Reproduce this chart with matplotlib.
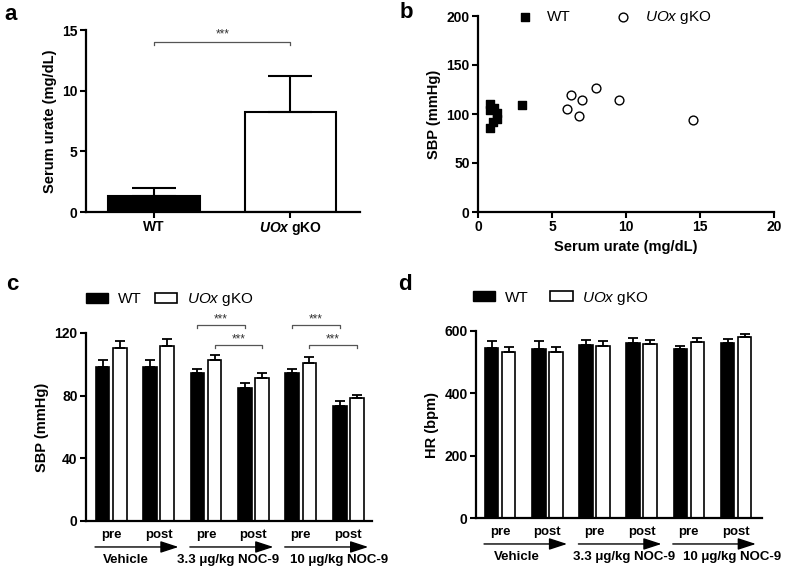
import numpy as np
import matplotlib
matplotlib.use('Agg')
import matplotlib.pyplot as plt
from matplotlib.patches import Patch
from matplotlib.transforms import offset_copy

plt.rcParams['font.family'] = ['Liberation Sans', 'DejaVu Sans']
plt.rcParams['mathtext.fontset'] = 'custom'
plt.rcParams['mathtext.rm'] = 'Liberation Sans'
plt.rcParams['mathtext.it'] = 'Liberation Sans:italic'
plt.rcParams['mathtext.bf'] = 'Liberation Sans:bold'
plt.rcParams['mathtext.bfit'] = 'Liberation Sans:italic:bold'

# panel a: serum urate
genotypes = ['WT', r'$\mathbfit{UOx}$ gKO']
urate_mean = [1.32, 8.27]
urate_err = [0.63, 2.93]

# panel b: SBP vs serum urate
wt_urate = [0.8, 0.8, 1.1, 1.3, 1.3, 1.0, 0.8, 3.0]
wt_sbp = [110, 104, 106, 101, 95, 92, 86, 109]
ko_urate = [6.0, 6.3, 6.8, 7.0, 8.0, 9.5, 14.5]
ko_sbp = [105, 119, 98, 114, 127, 114, 94]

# panels c, d
phases = ['pre', 'post', 'pre', 'post', 'pre', 'post']
treatments = ['Vehicle', '3.3 \u03bcg/kg NOC-9', '10 \u03bcg/kg NOC-9']
treatment_pos_c = [0.32, 2.47, 4.81]
treatment_pos_d = [0.36, 2.62, 4.92]
sbp_wt = [98.6, 98.6, 94.4, 85.0, 94.4, 73.5]
sbp_wt_err = [4.3, 4.3, 2.8, 3.0, 2.8, 3.2]
sbp_ko = [110.2, 111.5, 102.5, 91.0, 100.8, 78.4]
sbp_ko_err = [4.9, 4.7, 3.6, 3.2, 3.6, 2.3]
hr_wt = [547, 543, 555, 563, 543, 562]
hr_wt_err = [21, 24, 15, 16, 9, 11]
hr_ko = [534, 532, 552, 559, 566, 582]
hr_ko_err = [16, 16, 15, 12, 10, 8]

W, H = 790, 570
fig = plt.figure(figsize=(W / 100, H / 100), dpi=100)


def box(l, r, t, b):
    return [l / W, 1 - b / H, (r - l) / W, (b - t) / H]


def style(ax):
    for s in ['top', 'right']:
        ax.spines[s].set_visible(False)
    for s in ['left', 'bottom']:
        ax.spines[s].set_linewidth(1.6)
    ax.tick_params(width=1.5, length=4, labelsize=10, pad=2)
    for lab in ax.get_xticklabels() + ax.get_yticklabels():
        lab.set_fontweight('bold')


lab_font = dict(fontsize=10.5, fontweight='bold')

# ---- a ----
ax = fig.add_axes(box(86, 360, 30, 212))
x = np.arange(2)
ax.bar(x, urate_mean, width=0.67, color=['black', 'white'], edgecolor='black', linewidth=1.5)
ax.errorbar(x, urate_mean, yerr=[[0, 0], urate_err], fmt='none', ecolor='black',
            elinewidth=1.5, capsize=16, capthick=1.5)
ax.set_xlim(-0.5, 1.51)
ax.set_ylim(0, 15)
ax.set_yticks([0, 5, 10, 15])
ax.set_xticks(x)
ax.set_xticklabels(genotypes)
ax.tick_params(axis='x', length=0, pad=8)
ax.set_ylabel('Serum urate (mg/dL)', **lab_font)
style(ax)
ax.plot([0, 0, 1, 1], [13.75, 14, 14, 13.75], color='#555555', lw=0.9, clip_on=False)
ax.text(0.5, 14.6, '***', ha='center', va='center', fontsize=8.5, color='#333333')

# ---- b ----
ax = fig.add_axes(box(478, 774, 16, 212))
ax.scatter(wt_urate, wt_sbp, marker='s', s=32, color='black', label='WT', clip_on=False)
ax.scatter(ko_urate, ko_sbp, marker='o', s=40, facecolor='white', edgecolor='black',
           linewidth=1, label=r'$\mathit{UOx}$ gKO')
ax.set_xlim(0, 20)
ax.set_ylim(0, 200)
ax.set_xticks([0, 5, 10, 15, 20])
ax.set_yticks([0, 50, 100, 150, 200])
ax.set_xlabel('Serum urate (mg/dL)', **lab_font)
ax.set_ylabel('SBP (mmHg)', **lab_font)
style(ax)
ax.legend(loc='center left', bbox_to_anchor=(0.133, 0.99), ncol=2, frameon=False,
          fontsize=11, handlelength=1, handletextpad=0.95, columnspacing=2.9,
          borderaxespad=0, borderpad=0)


def paired(ax, wt, wt_err, ko, ko_err, xlim, ylim, yticks, ylabel, leg_xy, colsp, tpos):
    x = np.arange(len(wt))
    off = 0.18
    bw = 0.29
    ax.bar(x - off, wt, width=bw, color='black', edgecolor='black', linewidth=1.2)
    ax.bar(x + off, ko, width=bw, color='white', edgecolor='black', linewidth=1.2)
    ax.errorbar(x - off, wt, yerr=[np.zeros(len(wt)), wt_err], fmt='none', ecolor='black',
                elinewidth=1.3, capsize=3.5, capthick=1.3)
    ax.errorbar(x + off, ko, yerr=[np.zeros(len(ko)), ko_err], fmt='none', ecolor='black',
                elinewidth=1.3, capsize=3.5, capthick=1.3)
    ax.set_xlim(*xlim)
    ax.set_ylim(*ylim)
    ax.set_yticks(yticks)
    ax.set_xticks([])
    ax.set_ylabel(ylabel, **lab_font)
    style(ax)
    tr = ax.get_xaxis_transform()
    for i, p in enumerate(phases):
        ax.annotate(p, xy=(i, 0), xycoords=tr, xytext=(0, -10), textcoords='offset points',
                    ha='center', va='center', fontsize=9.5, fontweight='bold')
    arr_tr = offset_copy(tr, fig=fig, x=0, y=-18.7, units='points')
    for k, t in enumerate(treatments):
        ax.annotate('', xy=(2 * k + 1.42, 0), xytext=(2 * k - 0.34, 0), xycoords=arr_tr,
                    textcoords=arr_tr,
                    arrowprops=dict(arrowstyle='-|>,head_length=1.1,head_width=0.36',
                                    mutation_scale=10, color='black', lw=1,
                                    shrinkA=0, shrinkB=0))
        ax.annotate(t, xy=(tpos[k], 0), xycoords=tr, xytext=(0, -28),
                    textcoords='offset points', ha='center', va='center',
                    fontsize=9.5, fontweight='bold', annotation_clip=False)
    handles = [Patch(facecolor='black', edgecolor='black'),
               Patch(facecolor='white', edgecolor='black', linewidth=1.2)]
    ax.legend(handles, ['WT', r'$\mathit{UOx}$ gKO'], loc='center left',
              bbox_to_anchor=leg_xy, ncol=2, frameon=False, fontsize=11,
              handlelength=1.45, handleheight=0.6, handletextpad=0.65,
              columnspacing=colsp, borderaxespad=0, borderpad=0)


# ---- c ----
ax = fig.add_axes(box(86, 372, 333, 521))
paired(ax, sbp_wt, sbp_wt_err, sbp_ko, sbp_ko_err, (-0.53, 5.5), (0, 120),
       [0, 40, 80, 120], 'SBP (mmHg)', (0.0, 1.176), 0.85, treatment_pos_c)
brackets = [(1.82, 2.82, 125), (2.18, 3.18, 112.5), (3.82, 4.82, 125), (4.18, 5.18, 112.5)]
for x1, x2, yb in brackets:
    ax.plot([x1, x1, x2, x2], [yb - 2, yb, yb, yb - 2], color='#555555', lw=0.9, clip_on=False)
    ax.text((x1 + x2) / 2, yb + 3.5, '***', ha='center', va='center', fontsize=8.5,
            color='#333333', clip_on=False)

# ---- d ----
ax = fig.add_axes(box(476, 762, 331, 518))
paired(ax, hr_wt, hr_wt_err, hr_ko, hr_ko_err, (-0.51, 5.55), (0, 600),
       [0, 200, 400, 600], 'HR (bpm)', (-0.01, 1.176), 1.4, treatment_pos_d)

# panel letters
for lt, px, py in [('a', 4, 14), ('b', 400, 12), ('c', 6, 284), ('d', 398, 284)]:
    fig.text(px / W, 1 - py / H, lt, fontsize=16, fontweight='bold', ha='left', va='center')

fig.savefig('out.png', dpi=100)
